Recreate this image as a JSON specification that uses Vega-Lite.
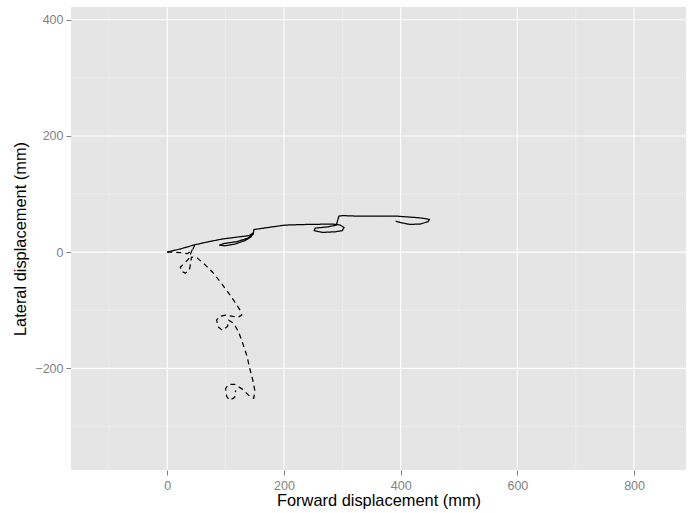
{
  "$schema": "https://vega.github.io/schema/vega-lite/v6.json",
  "width": 615,
  "height": 463,
  "autosize": {"type": "none"},
  "padding": {"left": 71, "top": 7, "right": 6, "bottom": 43},
  "background": "white",
  "config": {
    "view": {"fill": "#E5E5E5", "stroke": null},
    "axis": {
      "grid": false,
      "domain": false,
      "tickColor": "#7F7F7F",
      "tickSize": 5,
      "tickWidth": 1,
      "labelColor": "#7F7F7F",
      "labelFont": "Liberation Sans",
      "labelFontSize": 12.5,
      "labelPadding": 4,
      "titleFont": "Liberation Sans",
      "titleFontSize": 16.4,
      "titleFontWeight": "normal",
      "titleColor": "black"
    },
    "axisY": {"labelPadding": 3}
  },
  "datasets": {
    "minorx": [{"v": -100}, {"v": 100}, {"v": 300}, {"v": 500}, {"v": 700}],
    "majorx": [{"v": 0}, {"v": 200}, {"v": 400}, {"v": 600}, {"v": 800}],
    "minory": [{"v": -300}, {"v": -100}, {"v": 100}, {"v": 300}],
    "majory": [{"v": -200}, {"v": 0}, {"v": 200}, {"v": 400}],
    "paths": [
      {"s": "solid", "i": 1, "x": 0, "y": 0},
      {"s": "solid", "i": 2, "x": 24.1, "y": 6.0},
      {"s": "solid", "i": 3, "x": 44.8, "y": 12.1},
      {"s": "solid", "i": 4, "x": 67.2, "y": 17.2},
      {"s": "solid", "i": 5, "x": 93.1, "y": 22.4},
      {"s": "solid", "i": 6, "x": 119.0, "y": 25.9},
      {"s": "solid", "i": 7, "x": 139.7, "y": 28.4},
      {"s": "solid", "i": 8, "x": 146.6, "y": 32.8},
      {"s": "solid", "i": 9, "x": 143.1, "y": 25.9},
      {"s": "solid", "i": 10, "x": 132.8, "y": 19.8},
      {"s": "solid", "i": 11, "x": 115.5, "y": 13.8},
      {"s": "solid", "i": 12, "x": 98.3, "y": 10.9},
      {"s": "solid", "i": 13, "x": 89.7, "y": 12.1},
      {"s": "solid", "i": 14, "x": 96.6, "y": 14.7},
      {"s": "solid", "i": 15, "x": 119.0, "y": 18.1},
      {"s": "solid", "i": 16, "x": 137.9, "y": 24.1},
      {"s": "solid", "i": 17, "x": 147.4, "y": 31.0},
      {"s": "solid", "i": 18, "x": 148.3, "y": 38.8},
      {"s": "solid", "i": 19, "x": 162.1, "y": 40.9},
      {"s": "solid", "i": 20, "x": 201.7, "y": 46.6},
      {"s": "solid", "i": 21, "x": 243.1, "y": 47.8},
      {"s": "solid", "i": 22, "x": 282.8, "y": 48.3},
      {"s": "solid", "i": 23, "x": 296.6, "y": 46.6},
      {"s": "solid", "i": 24, "x": 302.9, "y": 42.2},
      {"s": "solid", "i": 25, "x": 300.0, "y": 37.1},
      {"s": "solid", "i": 26, "x": 287.9, "y": 35.0},
      {"s": "solid", "i": 27, "x": 265.5, "y": 34.0},
      {"s": "solid", "i": 28, "x": 251.7, "y": 37.1},
      {"s": "solid", "i": 29, "x": 253.4, "y": 41.4},
      {"s": "solid", "i": 30, "x": 275.9, "y": 43.6},
      {"s": "solid", "i": 31, "x": 289.7, "y": 46.6},
      {"s": "solid", "i": 32, "x": 292.2, "y": 55.2},
      {"s": "solid", "i": 33, "x": 294.0, "y": 62.1},
      {"s": "solid", "i": 34, "x": 300.0, "y": 62.9},
      {"s": "solid", "i": 35, "x": 322.4, "y": 62.1},
      {"s": "solid", "i": 36, "x": 391.4, "y": 62.1},
      {"s": "solid", "i": 37, "x": 432.8, "y": 59.1},
      {"s": "solid", "i": 38, "x": 449.5, "y": 56.4},
      {"s": "solid", "i": 39, "x": 446.6, "y": 52.2},
      {"s": "solid", "i": 40, "x": 432.8, "y": 48.3},
      {"s": "solid", "i": 41, "x": 415.5, "y": 47.8},
      {"s": "solid", "i": 42, "x": 400.0, "y": 50.9},
      {"s": "solid", "i": 43, "x": 391.4, "y": 53.4},
      {"s": "dashed", "i": 1, "x": 0, "y": 0},
      {"s": "dashed", "i": 2, "x": 10.3, "y": 0},
      {"s": "dashed", "i": 3, "x": 22.4, "y": -0.9},
      {"s": "dashed", "i": 4, "x": 34.5, "y": -2.6},
      {"s": "dashed", "i": 5, "x": 43.1, "y": 3.4},
      {"s": "dashed", "i": 6, "x": 46.6, "y": 11.2},
      {"s": "dashed", "i": 7, "x": 43.1, "y": 5.2},
      {"s": "dashed", "i": 8, "x": 39.7, "y": -3.4},
      {"s": "dashed", "i": 9, "x": 36.2, "y": -12.1},
      {"s": "dashed", "i": 10, "x": 29.3, "y": -19.0},
      {"s": "dashed", "i": 11, "x": 22.4, "y": -25.9},
      {"s": "dashed", "i": 12, "x": 24.1, "y": -32.8},
      {"s": "dashed", "i": 13, "x": 31.0, "y": -36.2},
      {"s": "dashed", "i": 14, "x": 37.9, "y": -31.0},
      {"s": "dashed", "i": 15, "x": 39.7, "y": -20.7},
      {"s": "dashed", "i": 16, "x": 41.4, "y": -8.6},
      {"s": "dashed", "i": 17, "x": 51.7, "y": -10.3},
      {"s": "dashed", "i": 18, "x": 63.8, "y": -20.7},
      {"s": "dashed", "i": 19, "x": 77.6, "y": -34.5},
      {"s": "dashed", "i": 20, "x": 91.4, "y": -51.7},
      {"s": "dashed", "i": 21, "x": 105.2, "y": -70.7},
      {"s": "dashed", "i": 22, "x": 117.2, "y": -87.9},
      {"s": "dashed", "i": 23, "x": 125.9, "y": -101.7},
      {"s": "dashed", "i": 24, "x": 127.6, "y": -108.6},
      {"s": "dashed", "i": 25, "x": 120.7, "y": -112.1},
      {"s": "dashed", "i": 26, "x": 110.3, "y": -110.3},
      {"s": "dashed", "i": 27, "x": 100.0, "y": -108.6},
      {"s": "dashed", "i": 28, "x": 89.7, "y": -110.3},
      {"s": "dashed", "i": 29, "x": 84.5, "y": -117.2},
      {"s": "dashed", "i": 30, "x": 87.9, "y": -129.3},
      {"s": "dashed", "i": 31, "x": 94.8, "y": -134.5},
      {"s": "dashed", "i": 32, "x": 103.4, "y": -127.6},
      {"s": "dashed", "i": 33, "x": 105.2, "y": -117.2},
      {"s": "dashed", "i": 34, "x": 113.8, "y": -122.4},
      {"s": "dashed", "i": 35, "x": 122.4, "y": -137.9},
      {"s": "dashed", "i": 36, "x": 129.3, "y": -156.9},
      {"s": "dashed", "i": 37, "x": 136.2, "y": -177.6},
      {"s": "dashed", "i": 38, "x": 141.4, "y": -200.0},
      {"s": "dashed", "i": 39, "x": 146.6, "y": -220.7},
      {"s": "dashed", "i": 40, "x": 150.0, "y": -237.9},
      {"s": "dashed", "i": 41, "x": 148.3, "y": -251.7},
      {"s": "dashed", "i": 42, "x": 141.4, "y": -248.3},
      {"s": "dashed", "i": 43, "x": 129.3, "y": -236.2},
      {"s": "dashed", "i": 44, "x": 115.5, "y": -227.6},
      {"s": "dashed", "i": 45, "x": 105.2, "y": -227.6},
      {"s": "dashed", "i": 46, "x": 100.0, "y": -234.5},
      {"s": "dashed", "i": 47, "x": 101.7, "y": -248.3},
      {"s": "dashed", "i": 48, "x": 106.9, "y": -255.2},
      {"s": "dashed", "i": 49, "x": 115.5, "y": -250.0},
      {"s": "dashed", "i": 50, "x": 117.2, "y": -237.9}
    ]
  },
  "layer": [
    {
      "data": {"name": "minorx"},
      "mark": {"type": "rule", "color": "#F2F2F2", "strokeWidth": 0.6},
      "encoding": {
        "x": {"field": "v", "type": "quantitative", "title": "Forward displacement (mm)",
              "scale": {"domain": [-165, 889], "nice": false, "zero": false},
              "axis": {"values": [0, 200, 400, 600, 800], "titlePadding": 1}}
      }
    },
    {
      "data": {"name": "minory"},
      "mark": {"type": "rule", "color": "#F2F2F2", "strokeWidth": 0.6},
      "encoding": {
        "y": {"field": "v", "type": "quantitative", "title": "Lateral displacement (mm)",
              "scale": {"domain": [-375, 422], "nice": false, "zero": false},
              "axis": {"values": [-200, 0, 200, 400], "titlePadding": 6}}
      }
    },
    {
      "data": {"name": "majorx"},
      "mark": {"type": "rule", "color": "white", "strokeWidth": 1.1},
      "encoding": {
        "x": {"field": "v", "type": "quantitative", "title": "Forward displacement (mm)",
              "axis": {"values": [0, 200, 400, 600, 800], "titlePadding": 1}}
      }
    },
    {
      "data": {"name": "majory"},
      "mark": {"type": "rule", "color": "white", "strokeWidth": 1.1},
      "encoding": {
        "y": {"field": "v", "type": "quantitative", "title": "Lateral displacement (mm)",
              "axis": {"values": [-200, 0, 200, 400], "titlePadding": 6}}
      }
    },
    {
      "data": {"name": "paths"},
      "mark": {"type": "line", "color": "black", "strokeWidth": 1.25, "strokeJoin": "round"},
      "encoding": {
        "x": {"field": "x", "type": "quantitative", "title": "Forward displacement (mm)",
              "axis": {"values": [0, 200, 400, 600, 800], "titlePadding": 1}},
        "y": {"field": "y", "type": "quantitative", "title": "Lateral displacement (mm)",
              "axis": {"values": [-200, 0, 200, 400], "titlePadding": 6}},
        "detail": {"field": "s"},
        "order": {"field": "i", "type": "quantitative"},
        "strokeDash": {"field": "s", "type": "nominal", "legend": null,
                       "scale": {"domain": ["solid", "dashed"], "range": [[1, 0], [5, 4]]}}
      }
    }
  ]
}
